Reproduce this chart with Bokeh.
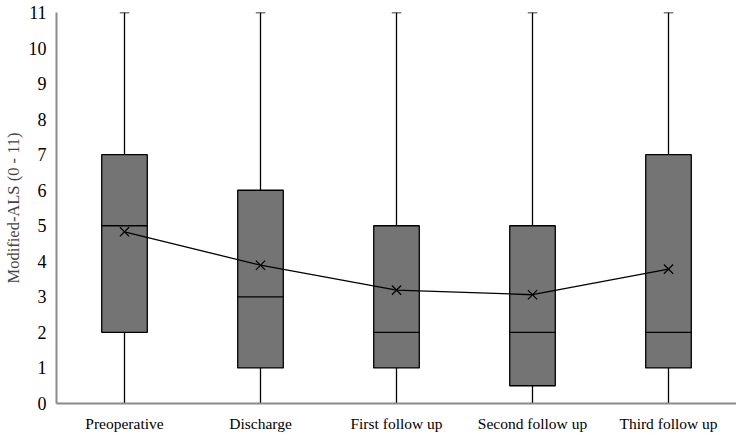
from bokeh.plotting import figure
from bokeh.models import ColumnDataSource, FactorRange, Range1d, FixedTicker
from bokeh.transform import dodge
from bokeh.embed import file_html
from bokeh.resources import INLINE

categories = ["Preoperative", "Discharge", "First follow up", "Second follow up", "Third follow up"]
whisker_low = [0, 0, 0, 0, 0]
q1 = [2, 1, 1, 0.5, 1]
median = [5, 3, 2, 2, 2]
q3 = [7, 6, 5, 5, 7]
whisker_high = [11, 11, 11, 11, 11]
mean = [4.83, 3.89, 3.19, 3.06, 3.78]
y_ticks = list(range(0, 12))

src = ColumnDataSource(dict(cat=categories, lo=whisker_low, q1=q1, med=median,
                            q3=q3, hi=whisker_high, mean=mean))

FONT = "Liberation Serif"
p = figure(width=736, height=434, x_range=FactorRange(*categories),
           y_range=Range1d(0, 11), output_backend="svg", toolbar_location=None,
           min_border_left=46, min_border_right=0, min_border_top=12, min_border_bottom=0)
p.outline_line_color = None
p.xgrid.grid_line_color = None
p.ygrid.grid_line_color = None
p.x_range.range_padding = 0

# whiskers
p.segment(x0="cat", y0="q3", x1="cat", y1="hi", source=src, line_color="black", line_width=1.3)
p.segment(x0="cat", y0="lo", x1="cat", y1="q1", source=src, line_color="black", line_width=1.3)
p.segment(x0=dodge("cat", -0.035, range=p.x_range), y0="hi",
          x1=dodge("cat", 0.035, range=p.x_range), y1="hi", source=src,
          line_color="black", line_width=1.3)
# boxes
p.vbar(x="cat", top="q3", bottom="q1", width=0.335, source=src,
       fill_color="#747474", line_color="black", line_width=1.3)
# medians
p.segment(x0=dodge("cat", -0.1675, range=p.x_range), y0="med",
          x1=dodge("cat", 0.1675, range=p.x_range), y1="med", source=src,
          line_color="black", line_width=1.3)
# means
p.line(x="cat", y="mean", source=src, line_color="black", line_width=1.3)
p.scatter(x="cat", y="mean", source=src, marker="x", size=13, line_color="black", line_width=1.2)

for ax in (p.xaxis, p.yaxis):
    ax.axis_line_color = "#8a8a8a"
    ax.axis_line_width = 2
    ax.major_tick_line_color = None
    ax.minor_tick_line_color = None
    ax.major_label_text_font = FONT
    ax.major_label_text_color = "black"

p.yaxis.ticker = FixedTicker(ticks=y_ticks)
p.yaxis.major_label_text_font_size = "18px"
p.yaxis.major_label_standoff = 4
p.yaxis.axis_label = "Modified-ALS (0 - 11)"
p.yaxis.axis_label_text_font = FONT
p.yaxis.axis_label_text_font_style = "normal"
p.yaxis.axis_label_text_font_size = "16.5px"
p.yaxis.axis_label_standoff = 3
p.xaxis.major_label_text_font_size = "15.5px"
p.xaxis.major_label_standoff = 5

open("out.html", "w").write(file_html(p, INLINE))
